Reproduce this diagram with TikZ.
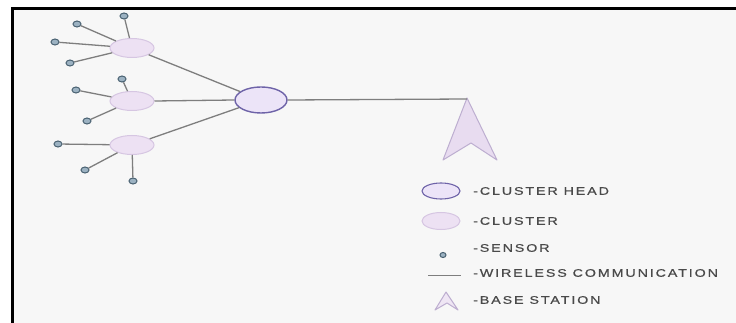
\documentclass[tikz,border=0pt]{standalone}
\usepackage{fontspec}
\usetikzlibrary{shapes.geometric}
\newfontfamily\lgfont[FakeStretch=1.3,LetterSpace=17,FakeBold=0.6]{Liberation Sans}
\definecolor{bgc}{HTML}{F7F7F7}
\definecolor{clfill}{HTML}{EDE1F3}
\definecolor{cldraw}{HTML}{D6C6E2}
\definecolor{chfill}{HTML}{ECE4F8}
\definecolor{chdraw}{HTML}{6E63A8}
\definecolor{snfill}{HTML}{9CB2C2}
\definecolor{sndraw}{HTML}{4A6272}
\definecolor{lnc}{HTML}{7E7E7E}
\definecolor{bsfill}{HTML}{E8DCF0}
\definecolor{bsdraw}{HTML}{BDAED0}
\definecolor{txc}{HTML}{4A4A4A}
\tikzset{
  clusterbox/.style={ellipse, fill=clfill, draw=cldraw, line width=1pt, minimum width=44pt, minimum height=19pt, inner sep=0pt},
  headbox/.style={ellipse, fill=chfill, draw=chdraw, line width=1.4pt, minimum width=52pt, minimum height=26pt, inner sep=0pt},
  sensorbox/.style={ellipse, fill=snfill, draw=sndraw, line width=1pt, minimum width=8pt, minimum height=6pt, inner sep=0pt},
  link/.style={draw=lnc, line width=1.3pt},
  legtext/.style={anchor=west, text=txc, font=\lgfont\fontsize{11}{13}\selectfont, inner sep=0pt},
  bsshape/.style={fill=bsfill, draw=bsdraw, line width=1pt, line join=round}
}
\begin{document}
\begin{tikzpicture}[x=1pt,y=-1pt]
\useasboundingbox (0,0) rectangle (736,323);
\fill[white] (0,0) rectangle (736,323);
\fill[bgc] (12,9) rectangle (736,323);
\draw[black, line width=3pt] (12,323) -- (12,9) -- (736,9);

% clusters
\node[clusterbox] (c1) at (132,48) {};
\node[clusterbox] (c2) at (132,101) {};
\node[clusterbox] (c3) at (132,145) {};
\node[headbox] (ch) at (261,100) {};

% sensors
\node[sensorbox] (s11) at (124,16) {};
\node[sensorbox] (s12) at (77,24) {};
\node[sensorbox] (s13) at (55,42) {};
\node[sensorbox] (s14) at (70,63) {};
\node[sensorbox] (s21) at (122,79) {};
\node[sensorbox] (s22) at (76,90) {};
\node[sensorbox] (s23) at (87,121) {};
\node[sensorbox] (s31) at (58,144) {};
\node[sensorbox] (s32) at (85,170) {};
\node[sensorbox] (s33) at (133,181) {};

% sensor links
\foreach \s in {s11,s12,s13,s14} \draw[link] (\s) -- (c1);
\foreach \s in {s21,s22,s23} \draw[link] (\s) -- (c2);
\foreach \s in {s31,s32,s33} \draw[link] (\s) -- (c3);

% cluster to head
\draw[link] (c1) -- (ch);
\draw[link] (c2.east) -- (ch.west);
\draw[link] (c3) -- (ch);

% base station
\coordinate (bstip) at (467,99);
\draw[bsshape] (467,98) -- (497,160) -- (471,143) -- (443,160) -- cycle;
\draw[link] (ch.east) -- (bstip);

% legend
\node[headbox, minimum width=38pt, minimum height=16pt, line width=1.1pt] (lch) at (441,191) {};
\node[legtext] (tch) at (473,191) {-CLUSTER HEAD};
\node[clusterbox, minimum width=38pt, minimum height=17pt] (lcl) at (441,221) {};
\node[legtext] (tcl) at (473,221) {-CLUSTER};
\node[sensorbox, minimum width=6pt, minimum height=5pt] (lsn) at (443,255) {};
\node[legtext] (tsn) at (473,248) {-SENSOR};
\coordinate (lw1) at (428,275);
\coordinate (lw2) at (461,275);
\draw[draw=lnc, line width=1pt] (lw1) -- (lw2);
\node[legtext] (twc) at (473,273) {-WIRELESS COMMUNICATION};
\draw[bsshape, fill=bsfill!70] (446,292) -- (458,310) -- (447,303) -- (435,310) -- cycle;
\node[legtext] (tbs) at (473,300) {-BASE STATION};
\end{tikzpicture}
\end{document}
